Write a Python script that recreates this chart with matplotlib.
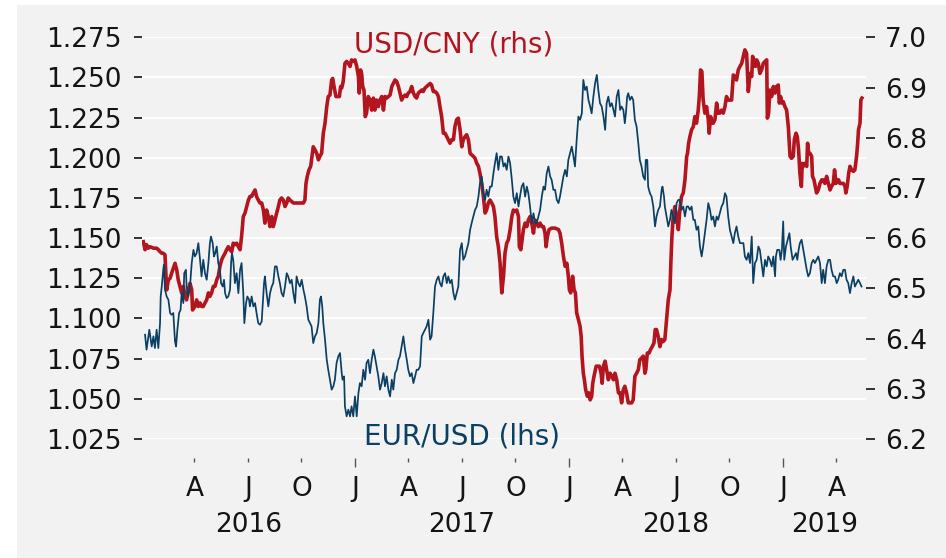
import numpy as np
import matplotlib
matplotlib.use("Agg")
import matplotlib.pyplot as plt
from matplotlib.patches import Rectangle
from matplotlib.transforms import blended_transform_factory
from matplotlib.ticker import FixedLocator, FixedFormatter

# ---------------- data (decimal year, value) ----------------
EUR_USD = [
    (2016.019, 1.0899), (2016.026, 1.0806), (2016.039, 1.0930), (2016.050, 1.0826), (2016.058, 1.0889),
    (2016.065, 1.0816), (2016.073, 1.0930), (2016.081, 1.0816), (2016.089, 1.0971), (2016.092, 1.1137),
    (2016.097, 1.1199), (2016.104, 1.1303), (2016.107, 1.1334), (2016.112, 1.1179), (2016.120, 1.1137),
    (2016.128, 1.1117), (2016.136, 1.1034), (2016.143, 1.1023), (2016.151, 1.1034), (2016.159, 1.0857),
    (2016.164, 1.0826), (2016.170, 1.0930), (2016.178, 1.1034), (2016.185, 1.1054), (2016.190, 1.1158),
    (2016.198, 1.1096), (2016.202, 1.1282), (2016.210, 1.1303), (2016.213, 1.1199), (2016.221, 1.1137),
    (2016.229, 1.1199), (2016.237, 1.1345), (2016.245, 1.1427), (2016.252, 1.1386), (2016.260, 1.1407),
    (2016.268, 1.1469), (2016.276, 1.1365), (2016.283, 1.1262), (2016.291, 1.1365), (2016.299, 1.1282),
    (2016.307, 1.1241), (2016.315, 1.1345), (2016.322, 1.1469), (2016.327, 1.1510), (2016.335, 1.1469),
    (2016.341, 1.1386), (2016.347, 1.1407), (2016.354, 1.1448), (2016.361, 1.1345), (2016.369, 1.1303),
    (2016.374, 1.1220), (2016.382, 1.1199), (2016.388, 1.1241), (2016.393, 1.1158), (2016.400, 1.1127),
    (2016.408, 1.1137), (2016.416, 1.1179), (2016.421, 1.1345), (2016.425, 1.1407), (2016.431, 1.1365),
    (2016.439, 1.1220), (2016.447, 1.1282), (2016.455, 1.1158), (2016.463, 1.1303), (2016.470, 1.1345),
    (2016.478, 1.1158), (2016.483, 1.0971), (2016.491, 1.1096), (2016.497, 1.1137), (2016.505, 1.1117),
    (2016.509, 1.1075), (2016.517, 1.1137), (2016.525, 1.1075), (2016.533, 1.1096), (2016.540, 1.1034),
    (2016.548, 1.0971), (2016.556, 1.0961),
    (2016.564, 1.0982), (2016.575, 1.1220), (2016.579, 1.1262), (2016.587, 1.1158), (2016.595, 1.1075),
    (2016.603, 1.1158), (2016.611, 1.1199), (2016.618, 1.1220), (2016.626, 1.1324), (2016.634, 1.1324),
    (2016.642, 1.1262), (2016.649, 1.1220), (2016.657, 1.1158), (2016.665, 1.1137), (2016.673, 1.1199),
    (2016.681, 1.1282), (2016.688, 1.1262), (2016.696, 1.1220), (2016.704, 1.1241), (2016.712, 1.1158),
    (2016.720, 1.1096), (2016.727, 1.1262), (2016.735, 1.1220), (2016.743, 1.1199), (2016.751, 1.1241),
    (2016.759, 1.1179), (2016.766, 1.1137), (2016.774, 1.1075), (2016.782, 1.0992), (2016.790, 1.0971),
    (2016.797, 1.0951), (2016.805, 1.0847), (2016.813, 1.0889), (2016.821, 1.0909), (2016.829, 1.0971),
    (2016.836, 1.1117), (2016.841, 1.1137), (2016.847, 1.1075), (2016.852, 1.0971), (2016.860, 1.0868),
    (2016.868, 1.0743), (2016.875, 1.0681), (2016.883, 1.0619), (2016.891, 1.0557), (2016.899, 1.0578),
    (2016.906, 1.0619), (2016.914, 1.0723), (2016.922, 1.0764), (2016.930, 1.0785), (2016.938, 1.0660),
    (2016.942, 1.0619), (2016.949, 1.0640), (2016.953, 1.0453), (2016.961, 1.0391), (2016.969, 1.0433),
    (2016.977, 1.0391), (2016.984, 1.0453), (2016.992, 1.0391), (2017.000, 1.0515), (2017.008, 1.0391),
    (2017.016, 1.0536), (2017.023, 1.0598), (2017.031, 1.0578), (2017.039, 1.0681), (2017.047, 1.0619),
    (2017.054, 1.0723), (2017.062, 1.0743), (2017.070, 1.0660), (2017.078, 1.0743), (2017.086, 1.0806),
    (2017.093, 1.0764), (2017.101, 1.0702), (2017.109, 1.0640), (2017.117, 1.0557),
    (2017.125, 1.0598), (2017.133, 1.0660), (2017.140, 1.0578), (2017.148, 1.0640), (2017.156, 1.0557),
    (2017.164, 1.0515), (2017.172, 1.0619), (2017.179, 1.0557), (2017.187, 1.0660), (2017.195, 1.0681),
    (2017.203, 1.0743), (2017.210, 1.0764), (2017.218, 1.0826), (2017.226, 1.0889), (2017.234, 1.0806),
    (2017.242, 1.0743), (2017.249, 1.0681), (2017.257, 1.0640), (2017.265, 1.0660), (2017.273, 1.0598),
    (2017.281, 1.0640), (2017.288, 1.0681), (2017.296, 1.0681), (2017.304, 1.0702), (2017.312, 1.0889),
    (2017.319, 1.0909), (2017.327, 1.0930), (2017.335, 1.0951), (2017.343, 1.0992), (2017.351, 1.0868),
    (2017.358, 1.0889), (2017.366, 1.1034), (2017.374, 1.1199), (2017.382, 1.1241), (2017.390, 1.1262),
    (2017.397, 1.1220), (2017.405, 1.1199), (2017.413, 1.1262), (2017.421, 1.1282), (2017.429, 1.1220),
    (2017.436, 1.1262), (2017.444, 1.1220), (2017.452, 1.1241), (2017.460, 1.1158), (2017.467, 1.1117),
    (2017.475, 1.1158), (2017.483, 1.1199), (2017.491, 1.1427), (2017.499, 1.1469), (2017.506, 1.1365),
    (2017.514, 1.1386), (2017.522, 1.1427), (2017.530, 1.1469), (2017.538, 1.1552), (2017.545, 1.1593),
    (2017.553, 1.1635), (2017.561, 1.1676), (2017.569, 1.1697), (2017.577, 1.1759), (2017.584, 1.1842),
    (2017.592, 1.1884), (2017.600, 1.1780), (2017.608, 1.1738), (2017.615, 1.1801), (2017.623, 1.1759),
    (2017.631, 1.1821), (2017.639, 1.1821), (2017.647, 1.1904), (2017.654, 1.1966), (2017.662, 1.2029),
    (2017.670, 1.1925), (2017.678, 1.2008),
    (2017.686, 1.2008), (2017.694, 1.1946), (2017.701, 1.1966), (2017.709, 1.1925), (2017.717, 1.2008),
    (2017.725, 1.1966), (2017.733, 1.1863), (2017.740, 1.1759), (2017.748, 1.1718), (2017.756, 1.1780),
    (2017.764, 1.1697), (2017.771, 1.1759), (2017.779, 1.1821), (2017.787, 1.1842), (2017.795, 1.1759),
    (2017.803, 1.1821), (2017.810, 1.1780), (2017.818, 1.1697), (2017.826, 1.1593), (2017.834, 1.1655),
    (2017.842, 1.1593), (2017.849, 1.1593), (2017.857, 1.1635), (2017.865, 1.1676), (2017.873, 1.1759),
    (2017.881, 1.1821), (2017.888, 1.1801), (2017.896, 1.1904), (2017.904, 1.1946), (2017.912, 1.1884),
    (2017.919, 1.1863), (2017.927, 1.1801), (2017.935, 1.1801), (2017.943, 1.1738), (2017.951, 1.1718),
    (2017.958, 1.1759), (2017.966, 1.1821), (2017.974, 1.1884), (2017.982, 1.1925), (2017.990, 1.1884),
    (2017.997, 1.1987), (2018.005, 1.2029), (2018.013, 1.2070), (2018.021, 1.2008), (2018.028, 1.1946),
    (2018.036, 1.2112), (2018.044, 1.2257), (2018.052, 1.2236), (2018.060, 1.2277), (2018.067, 1.2485),
    (2018.075, 1.2422), (2018.083, 1.2443), (2018.091, 1.2360), (2018.099, 1.2319), (2018.106, 1.2277),
    (2018.114, 1.2381), (2018.122, 1.2464), (2018.130, 1.2516), (2018.137, 1.2422), (2018.145, 1.2340),
    (2018.153, 1.2319), (2018.161, 1.2257), (2018.169, 1.2174), (2018.176, 1.2340), (2018.184, 1.2381),
    (2018.192, 1.2319), (2018.200, 1.2340), (2018.208, 1.2298), (2018.215, 1.2257), (2018.223, 1.2381),
    (2018.231, 1.2422), (2018.239, 1.2298),
    (2018.246, 1.2319), (2018.254, 1.2298), (2018.261, 1.2215), (2018.266, 1.2277), (2018.272, 1.2381),
    (2018.277, 1.2402), (2018.285, 1.2360), (2018.293, 1.2381), (2018.300, 1.2360), (2018.308, 1.2236),
    (2018.316, 1.2194), (2018.324, 1.2091), (2018.331, 1.1987), (2018.339, 1.1946), (2018.347, 1.1884),
    (2018.355, 1.1863), (2018.359, 1.1987), (2018.366, 1.1987), (2018.370, 1.1821), (2018.378, 1.1780),
    (2018.386, 1.1759), (2018.394, 1.1697), (2018.402, 1.1573), (2018.409, 1.1635), (2018.417, 1.1676),
    (2018.425, 1.1697), (2018.433, 1.1801), (2018.437, 1.1821), (2018.444, 1.1759), (2018.448, 1.1697),
    (2018.456, 1.1635), (2018.464, 1.1573), (2018.472, 1.1614), (2018.479, 1.1676), (2018.487, 1.1635),
    (2018.495, 1.1593), (2018.503, 1.1718), (2018.511, 1.1738), (2018.518, 1.1738), (2018.526, 1.1676),
    (2018.534, 1.1697), (2018.542, 1.1635), (2018.550, 1.1697), (2018.557, 1.1697), (2018.565, 1.1676),
    (2018.573, 1.1697), (2018.581, 1.1614), (2018.588, 1.1614), (2018.596, 1.1552), (2018.604, 1.1573),
    (2018.612, 1.1448), (2018.620, 1.1386), (2018.627, 1.1448), (2018.635, 1.1531), (2018.643, 1.1614),
    (2018.651, 1.1718), (2018.659, 1.1676), (2018.666, 1.1614), (2018.674, 1.1635), (2018.682, 1.1573),
    (2018.690, 1.1635), (2018.697, 1.1614), (2018.705, 1.1655), (2018.713, 1.1697), (2018.721, 1.1718),
    (2018.729, 1.1780), (2018.736, 1.1759), (2018.744, 1.1635), (2018.752, 1.1552), (2018.760, 1.1510),
    (2018.768, 1.1469), (2018.775, 1.1531), (2018.783, 1.1573), (2018.791, 1.1510), (2018.799, 1.1469),
    (2018.815, 1.1469), (2018.822, 1.1386), (2018.830, 1.1365), (2018.838, 1.1407), (2018.846, 1.1345),
    (2018.854, 1.1510), (2018.861, 1.1220), (2018.869, 1.1345), (2018.877, 1.1365), (2018.885, 1.1448),
    (2018.892, 1.1427), (2018.900, 1.1345), (2018.908, 1.1262), (2018.916, 1.1365), (2018.924, 1.1324),
    (2018.931, 1.1386), (2018.939, 1.1365), (2018.947, 1.1324), (2018.955, 1.1386), (2018.963, 1.1262),
    (2018.967, 1.1386), (2018.973, 1.1427), (2018.983, 1.1427), (2018.989, 1.1365), (2018.995, 1.1427),
    (2019.001, 1.1604), (2019.006, 1.1365), (2019.014, 1.1448), (2019.022, 1.1490), (2019.030, 1.1531),
    (2019.036, 1.1448), (2019.045, 1.1365), (2019.053, 1.1386), (2019.061, 1.1407), (2019.067, 1.1365),
    (2019.073, 1.1427), (2019.079, 1.1469), (2019.087, 1.1490), (2019.095, 1.1427), (2019.103, 1.1365),
    (2019.111, 1.1303), (2019.118, 1.1262), (2019.126, 1.1282), (2019.134, 1.1345), (2019.142, 1.1365),
    (2019.149, 1.1345), (2019.157, 1.1365), (2019.165, 1.1386), (2019.173, 1.1345), (2019.181, 1.1220),
    (2019.188, 1.1303), (2019.196, 1.1220), (2019.204, 1.1324), (2019.212, 1.1365), (2019.220, 1.1365),
    (2019.227, 1.1303), (2019.235, 1.1262), (2019.243, 1.1262), (2019.251, 1.1220), (2019.258, 1.1241),
    (2019.266, 1.1282), (2019.274, 1.1262), (2019.282, 1.1303), (2019.290, 1.1303), (2019.297, 1.1241),
    (2019.305, 1.1220), (2019.313, 1.1158), (2019.321, 1.1220), (2019.329, 1.1262), (2019.336, 1.1199),
    (2019.344, 1.1220), (2019.352, 1.1241), (2019.360, 1.1220), (2019.367, 1.1199),
]

USD_CNY = [
    (2016.011, 6.593), (2016.019, 6.577), (2016.026, 6.587), (2016.034, 6.580), (2016.042, 6.583),
    (2016.058, 6.580), (2016.073, 6.580), (2016.081, 6.577), (2016.089, 6.573), (2016.097, 6.570),
    (2016.104, 6.570), (2016.112, 6.567), (2016.117, 6.524), (2016.120, 6.497), (2016.128, 6.517),
    (2016.136, 6.520), (2016.143, 6.530), (2016.151, 6.540), (2016.159, 6.550), (2016.167, 6.537),
    (2016.174, 6.517), (2016.182, 6.504), (2016.190, 6.491), (2016.198, 6.504), (2016.206, 6.484),
    (2016.213, 6.477), (2016.221, 6.497), (2016.229, 6.510), (2016.237, 6.497), (2016.241, 6.457),
    (2016.252, 6.464), (2016.260, 6.477), (2016.268, 6.464), (2016.276, 6.471), (2016.283, 6.464),
    (2016.291, 6.464), (2016.299, 6.471), (2016.307, 6.477), (2016.315, 6.491), (2016.322, 6.484),
    (2016.330, 6.491), (2016.338, 6.504), (2016.346, 6.504), (2016.354, 6.517), (2016.361, 6.524),
    (2016.369, 6.544), (2016.377, 6.557), (2016.385, 6.564), (2016.393, 6.570), (2016.400, 6.577),
    (2016.408, 6.583), (2016.416, 6.577), (2016.424, 6.573), (2016.431, 6.590), (2016.439, 6.587),
    (2016.447, 6.590), (2016.455, 6.583), (2016.463, 6.577), (2016.470, 6.603), (2016.478, 6.643),
    (2016.486, 6.650), (2016.494, 6.663), (2016.502, 6.676), (2016.509, 6.683), (2016.517, 6.683),
    (2016.525, 6.690), (2016.533, 6.696), (2016.540, 6.683), (2016.548, 6.676), (2016.556, 6.670),
    (2016.564, 6.670), (2016.572, 6.656), (2016.579, 6.630), (2016.587, 6.656), (2016.595, 6.643),
    (2016.603, 6.623), (2016.611, 6.643), (2016.618, 6.623), (2016.626, 6.636), (2016.634, 6.650),
    (2016.642, 6.663), (2016.649, 6.676), (2016.657, 6.680), (2016.665, 6.676), (2016.673, 6.663),
    (2016.681, 6.670), (2016.688, 6.680), (2016.696, 6.676), (2016.704, 6.673), (2016.712, 6.670),
    (2016.727, 6.670), (2016.743, 6.670), (2016.759, 6.670), (2016.766, 6.676), (2016.771, 6.709),
    (2016.777, 6.723), (2016.785, 6.736), (2016.793, 6.743), (2016.797, 6.756), (2016.805, 6.782),
    (2016.813, 6.776), (2016.821, 6.769), (2016.829, 6.756), (2016.836, 6.763), (2016.844, 6.769),
    (2016.852, 6.809), (2016.860, 6.829), (2016.868, 6.862), (2016.875, 6.882), (2016.883, 6.885),
    (2016.891, 6.915), (2016.896, 6.918), (2016.902, 6.902), (2016.911, 6.882), (2016.917, 6.882),
    (2016.927, 6.882), (2016.933, 6.902), (2016.938, 6.899), (2016.945, 6.912), (2016.953, 6.948),
    (2016.961, 6.952), (2016.969, 6.948), (2016.977, 6.942), (2016.984, 6.955), (2016.992, 6.952),
    (2017.000, 6.955), (2017.008, 6.942), (2017.016, 6.922), (2017.020, 6.889), (2017.026, 6.935),
    (2017.031, 6.928), (2017.036, 6.902), (2017.042, 6.895), (2017.048, 6.842), (2017.054, 6.849),
    (2017.062, 6.882), (2017.070, 6.875), (2017.078, 6.855), (2017.086, 6.879), (2017.093, 6.855),
    (2017.101, 6.875), (2017.109, 6.862), (2017.117, 6.875),
    (2017.125, 6.882), (2017.133, 6.855), (2017.140, 6.882), (2017.148, 6.879), (2017.156, 6.882),
    (2017.164, 6.885), (2017.172, 6.902), (2017.179, 6.908), (2017.187, 6.915), (2017.195, 6.912),
    (2017.203, 6.902), (2017.210, 6.889), (2017.218, 6.875), (2017.226, 6.882), (2017.234, 6.885),
    (2017.242, 6.882), (2017.249, 6.889), (2017.257, 6.892), (2017.265, 6.902), (2017.273, 6.889),
    (2017.281, 6.882), (2017.288, 6.879), (2017.296, 6.889), (2017.304, 6.892), (2017.312, 6.895),
    (2017.319, 6.892), (2017.327, 6.899), (2017.335, 6.902), (2017.343, 6.905), (2017.351, 6.908),
    (2017.358, 6.905), (2017.366, 6.892), (2017.374, 6.892), (2017.382, 6.889), (2017.390, 6.882),
    (2017.397, 6.862), (2017.405, 6.842), (2017.413, 6.809), (2017.421, 6.809), (2017.429, 6.802),
    (2017.436, 6.796), (2017.444, 6.789), (2017.452, 6.796), (2017.460, 6.796), (2017.467, 6.822),
    (2017.475, 6.836), (2017.483, 6.839), (2017.491, 6.816), (2017.499, 6.782), (2017.506, 6.796),
    (2017.514, 6.802), (2017.522, 6.806), (2017.530, 6.796), (2017.538, 6.769), (2017.545, 6.766),
    (2017.553, 6.763), (2017.561, 6.759), (2017.569, 6.749), (2017.577, 6.743), (2017.584, 6.729),
    (2017.592, 6.709), (2017.600, 6.683), (2017.608, 6.650), (2017.615, 6.656), (2017.623, 6.670),
    (2017.631, 6.676), (2017.639, 6.670), (2017.647, 6.663), (2017.654, 6.643), (2017.662, 6.603),
    (2017.670, 6.583), (2017.678, 6.550),
    (2017.686, 6.491), (2017.694, 6.524), (2017.701, 6.570), (2017.709, 6.590), (2017.717, 6.597),
    (2017.725, 6.617), (2017.733, 6.643), (2017.740, 6.656), (2017.748, 6.653), (2017.756, 6.656),
    (2017.764, 6.643), (2017.768, 6.583), (2017.775, 6.577), (2017.779, 6.590), (2017.787, 6.617),
    (2017.795, 6.630), (2017.803, 6.623), (2017.810, 6.636), (2017.818, 6.643), (2017.826, 6.630),
    (2017.834, 6.610), (2017.842, 6.636), (2017.849, 6.630), (2017.857, 6.623), (2017.865, 6.630),
    (2017.873, 6.623), (2017.881, 6.623), (2017.888, 6.610), (2017.893, 6.583), (2017.899, 6.603),
    (2017.907, 6.617), (2017.919, 6.620), (2017.935, 6.620), (2017.951, 6.617), (2017.958, 6.610),
    (2017.966, 6.590), (2017.974, 6.564), (2017.982, 6.544), (2017.990, 6.550), (2017.997, 6.524),
    (2018.002, 6.497), (2018.008, 6.491), (2018.017, 6.524), (2018.024, 6.497), (2018.030, 6.491),
    (2018.036, 6.451), (2018.044, 6.438), (2018.052, 6.424), (2018.057, 6.404), (2018.061, 6.365),
    (2018.067, 6.331), (2018.072, 6.318), (2018.078, 6.298), (2018.086, 6.285), (2018.092, 6.292),
    (2018.099, 6.278), (2018.106, 6.285), (2018.111, 6.311), (2018.117, 6.325), (2018.127, 6.345),
    (2018.134, 6.345), (2018.142, 6.345), (2018.150, 6.331), (2018.155, 6.311), (2018.161, 6.345),
    (2018.169, 6.355), (2018.176, 6.338), (2018.184, 6.318), (2018.192, 6.331), (2018.200, 6.325),
    (2018.208, 6.318), (2018.215, 6.331), (2018.223, 6.318), (2018.231, 6.292), (2018.239, 6.292),
    (2018.246, 6.272), (2018.254, 6.298), (2018.261, 6.305), (2018.269, 6.292), (2018.277, 6.272),
    (2018.285, 6.272), (2018.293, 6.272), (2018.300, 6.278), (2018.308, 6.325), (2018.316, 6.331),
    (2018.324, 6.338), (2018.331, 6.358), (2018.339, 6.361), (2018.347, 6.365), (2018.355, 6.331),
    (2018.359, 6.338), (2018.366, 6.371), (2018.374, 6.371), (2018.381, 6.378), (2018.389, 6.384),
    (2018.397, 6.391), (2018.403, 6.418), (2018.409, 6.418), (2018.417, 6.404), (2018.425, 6.384),
    (2018.433, 6.398), (2018.440, 6.394), (2018.448, 6.398), (2018.456, 6.438), (2018.464, 6.477),
    (2018.472, 6.497), (2018.476, 6.550), (2018.481, 6.603), (2018.487, 6.643), (2018.495, 6.663),
    (2018.503, 6.643), (2018.511, 6.617), (2018.518, 6.656), (2018.526, 6.683), (2018.534, 6.690),
    (2018.542, 6.716), (2018.550, 6.763), (2018.554, 6.769), (2018.559, 6.789), (2018.565, 6.802),
    (2018.573, 6.816), (2018.581, 6.822), (2018.588, 6.842), (2018.596, 6.829), (2018.604, 6.855),
    (2018.609, 6.882), (2018.615, 6.935), (2018.621, 6.932), (2018.627, 6.875), (2018.635, 6.849),
    (2018.643, 6.862), (2018.651, 6.836), (2018.655, 6.809), (2018.662, 6.842), (2018.668, 6.829),
    (2018.674, 6.829), (2018.682, 6.836), (2018.690, 6.869), (2018.697, 6.849), (2018.705, 6.849),
    (2018.713, 6.855), (2018.721, 6.849), (2018.729, 6.862), (2018.736, 6.882), (2018.744, 6.875),
    (2018.752, 6.875), (2018.760, 6.875), (2018.768, 6.925), (2018.775, 6.922), (2018.783, 6.915),
    (2018.791, 6.935), (2018.799, 6.942),
    (2018.807, 6.948), (2018.815, 6.962), (2018.822, 6.975), (2018.830, 6.968), (2018.838, 6.892),
    (2018.846, 6.928), (2018.854, 6.922), (2018.858, 6.962), (2018.864, 6.955), (2018.871, 6.942),
    (2018.877, 6.955), (2018.885, 6.948), (2018.892, 6.928), (2018.900, 6.935), (2018.908, 6.948),
    (2018.916, 6.952), (2018.924, 6.955), (2018.927, 6.839), (2018.933, 6.849), (2018.939, 6.895),
    (2018.947, 6.882), (2018.955, 6.902), (2018.963, 6.889), (2018.970, 6.902), (2018.978, 6.905),
    (2018.983, 6.869), (2018.989, 6.882), (2018.995, 6.869), (2019.001, 6.872), (2019.009, 6.862),
    (2019.017, 6.855), (2019.025, 6.822), (2019.033, 6.763), (2019.040, 6.759), (2019.048, 6.763),
    (2019.053, 6.796), (2019.061, 6.809), (2019.067, 6.802), (2019.073, 6.776), (2019.079, 6.729),
    (2019.086, 6.703), (2019.090, 6.749), (2019.095, 6.743), (2019.103, 6.749), (2019.111, 6.743),
    (2019.115, 6.789), (2019.120, 6.769), (2019.126, 6.769), (2019.134, 6.763), (2019.138, 6.723),
    (2019.145, 6.716), (2019.151, 6.703), (2019.157, 6.690), (2019.165, 6.696), (2019.173, 6.709),
    (2019.181, 6.716), (2019.188, 6.716), (2019.196, 6.709), (2019.204, 6.723), (2019.212, 6.709),
    (2019.220, 6.696), (2019.227, 6.703), (2019.235, 6.709), (2019.241, 6.736), (2019.248, 6.709),
    (2019.254, 6.716), (2019.260, 6.716), (2019.266, 6.709), (2019.274, 6.709), (2019.282, 6.709),
    (2019.290, 6.703), (2019.294, 6.690), (2019.300, 6.703), (2019.307, 6.729), (2019.313, 6.743),
    (2019.321, 6.736), (2019.329, 6.733), (2019.336, 6.736), (2019.344, 6.763), (2019.349, 6.789),
    (2019.353, 6.816), (2019.360, 6.829), (2019.364, 6.875), (2019.369, 6.879),
]

LEFT_TICKS = [1.025, 1.050, 1.075, 1.100, 1.125, 1.150, 1.175, 1.200, 1.225, 1.250, 1.275]
RIGHT_TICKS = [6.2, 6.3, 6.4, 6.5, 6.6, 6.7, 6.8, 6.9, 7.0]
YEAR_TICKS = [2017.0, 2018.0, 2019.0]
YEAR_TICK_LABELS = ["J", "J", "J"]
QUARTER_TICKS = [2016.25, 2016.5, 2016.75, 2017.25, 2017.5, 2017.75,
                 2018.25, 2018.5, 2018.75, 2019.25]
QUARTER_LABELS = ["A", "J", "O", "A", "J", "O", "A", "J", "O", "A"]
YEARS = [2016, 2017, 2018, 2019]
X_RANGE = (2016.0047, 2019.388)

RED = "#B3151F"
BLUE = "#0B3F63"
TXT = "#141414"
FONT = "DejaVu Sans"
FS = 19

eur_t, eur_v = zip(*EUR_USD)
cny_t, cny_v = zip(*USD_CNY)

W, H = 946, 558
fig = plt.figure(figsize=(W / 100, H / 100), dpi=100)
fig.patch.set_facecolor("white")
fig.add_artist(Rectangle((17 / W, 0), (W - 17) / W, (H - 5) / H, transform=fig.transFigure,
                         facecolor="#f2f2f2", edgecolor="none", zorder=-10))

rect = [142 / W, 1 - 439 / H, 724 / W, 401.7 / H]
ax = fig.add_axes(rect)
ax.patch.set_visible(False)
ax.set_xlim(*X_RANGE)
ax.set_ylim(LEFT_TICKS[0], LEFT_TICKS[-1])
ax.set_yticks(LEFT_TICKS)
ax.set_yticklabels([f"{v:.3f}" for v in LEFT_TICKS], fontsize=FS, color=TXT, family=FONT)
ax.grid(axis="y", color="white", lw=1.4)
ax.set_axisbelow(True)
for s in ax.spines.values():
    s.set_visible(False)
ax.spines["bottom"].set_position(("outward", 13.7))
ax.tick_params(axis="y", direction="out", length=6, width=1.3, color="#222", pad=9)

ax.xaxis.set_major_locator(FixedLocator(YEAR_TICKS))
ax.xaxis.set_major_formatter(FixedFormatter(YEAR_TICK_LABELS))
ax.xaxis.set_minor_locator(FixedLocator(QUARTER_TICKS))
ax.xaxis.set_minor_formatter(FixedFormatter(QUARTER_LABELS))
ax.tick_params(axis="x", which="major", direction="out", length=6.5, width=1, color="#555",
               pad=6.5, labelsize=FS, labelcolor=TXT)
ax.tick_params(axis="x", which="minor", direction="out", length=2.9, width=1, color="#555",
               pad=10.1, labelsize=FS, labelcolor=TXT)
for lab in ax.get_xticklabels(which="both"):
    lab.set_family(FONT)

ax2 = ax.twinx()
ax2.set_ylim(RIGHT_TICKS[0], RIGHT_TICKS[-1])
ax2.set_yticks(RIGHT_TICKS)
ax2.set_yticklabels([f"{v:.1f}" for v in RIGHT_TICKS], fontsize=FS, color=TXT, family=FONT)
for s in ax2.spines.values():
    s.set_visible(False)
ax2.tick_params(axis="y", direction="out", length=6.5, width=1.3, color="#222", pad=7)
ax2.plot(cny_t, cny_v, color=RED, lw=2.6, solid_joinstyle="round")

ax3 = ax.twinx()
ax3.set_ylim(LEFT_TICKS[0], LEFT_TICKS[-1])
ax3.axis("off")
ax3.plot(eur_t, eur_v, color=BLUE, lw=1.25, solid_joinstyle="round")

ax3.text(0.430, 0.961, "USD/CNY (rhs)", transform=ax.transAxes, color=RED,
         fontsize=20, ha="center", va="baseline", family=FONT)
ax3.text(0.442, -0.014, "EUR/USD (lhs)", transform=ax.transAxes, color=BLUE,
         fontsize=20, ha="center", va="baseline", family=FONT)

btrans = blended_transform_factory(ax.transData, ax.transAxes)
for y in YEARS:
    lo = max(y, X_RANGE[0])
    hi = min(y + 1, X_RANGE[1])
    ax.text((lo + hi) / 2, -0.2315, str(y), transform=btrans, ha="center", va="baseline",
            fontsize=FS, color=TXT, family=FONT)

fig.savefig("out.png", dpi=100, facecolor=fig.get_facecolor())
